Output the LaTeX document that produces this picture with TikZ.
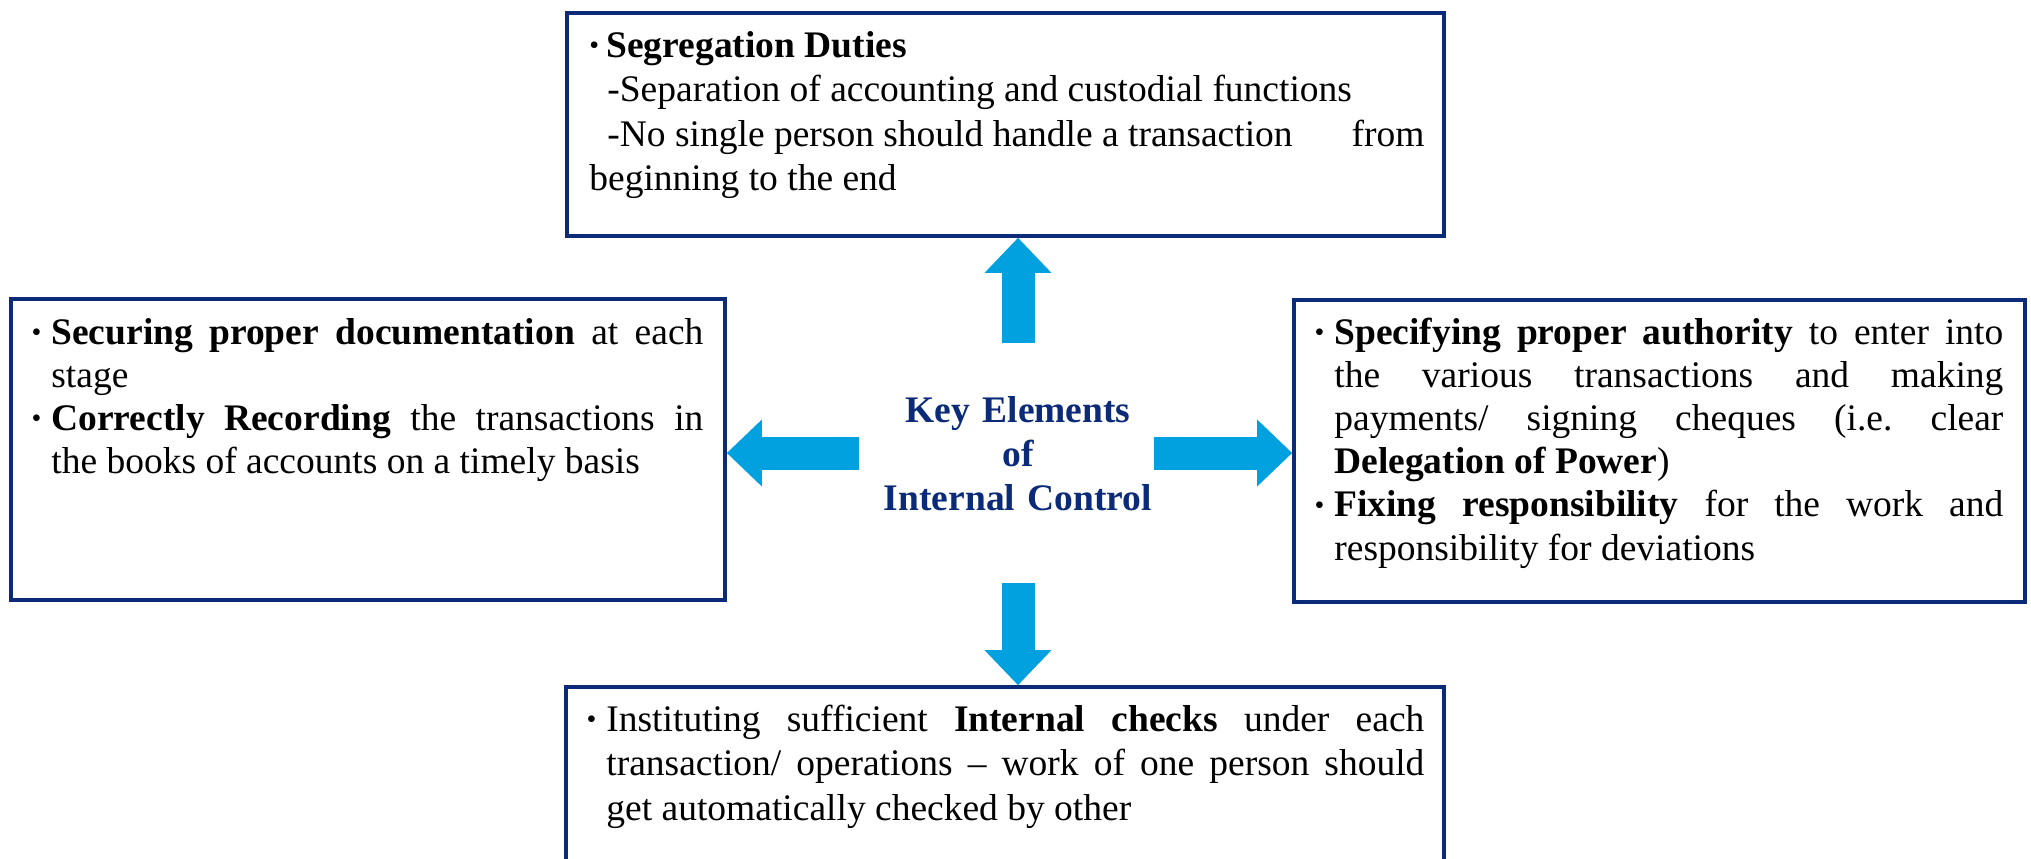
\documentclass[tikz,border=0pt]{standalone}
\usepackage{fontspec}
\setmainfont{Liberation Serif}
\usetikzlibrary{arrows.meta,fit}
\definecolor{navy}{HTML}{0B2A78}
\definecolor{cyanarr}{HTML}{00A1DE}
\newcommand{\bul}{{\fontsize{14pt}{14pt}\selectfont\raisebox{1.3pt}{\textbullet}}}
\newcommand{\bulitem}{\leavevmode\llap{\bul\hspace{5pt}}}
\frenchspacing
\tolerance=10000
\hbadness=10000
\begin{document}
\begin{tikzpicture}[x=0.5pt,y=-0.5pt,
  box/.style={draw=navy,line width=1.9pt,inner sep=0pt},
  txt/.style={anchor=base west,inner sep=0pt,align=justify,
    font=\fontsize{18.75pt}{22.25pt}\selectfont},
  sidetxt/.style={txt,font=\fontsize{18.75pt}{21.6pt}\selectfont},
  ctrtext/.style={anchor=base,inner sep=0pt,align=center,text width=170pt,
    text=navy,font=\fontsize{18.75pt}{22pt}\selectfont\bfseries},
  bigarrow/.style={draw=cyanarr,line width=16.5pt,
    -{Triangle[length=17.5pt,width=33.5pt,line width=0pt 0,fill=cyanarr]}}
]
\useasboundingbox (0,0) rectangle (2031,858);
\clip (0,0) rectangle (2031,858);
\fill[white] (0,0) rectangle (2031,858);

% boxes
\node[box,fit={(567,13) (1444,236)}] (top) {};
\node[box,fit={(11,299) (725,600)}] (lft) {};
\node[box,fit={(1294,300) (2025,602)}] (rgt) {};
\node[box,fit={(566,687) (1444,910)}] (bot) {};

% centre
\node[ctrtext] (ctr) at (1018,422) {Key Elements\\of\\Internal Control};

% arrows
\coordinate (ua) at (1018,343);
\coordinate (da) at (1018,583);
\coordinate (la) at (859,453);
\coordinate (ra) at (1154,453);
\draw[bigarrow] (ua) -- (ua |- top.south);
\draw[bigarrow] (da) -- (da |- bot.north);
\draw[bigarrow] (la) -- (la -| lft.east);
\draw[bigarrow] (ra) -- (ra -| rgt.west);

% texts
\node[txt,text width=417.5pt] (toptxt) at (589,57) {%
\makebox[8.5pt][l]{\bul}\textbf{Segregation Duties}\\
\hspace*{9pt}-Separation of accounting and custodial functions\\
\hspace*{9pt}-No single person should handle a transaction\hfill from\linebreak
beginning to the end};

\node[sidetxt,text width=326pt] (lfttxt) at (51,344) {%
\bulitem\textbf{Securing proper documentation} at each\linebreak stage\par
\bulitem\textbf{Correctly Recording} the transactions in\linebreak the books of accounts on a timely basis};

\node[sidetxt,text width=334.5pt] (rgttxt) at (1334,344) {%
\bulitem\textbf{Specifying proper authority} to enter into\linebreak the various transactions and making\linebreak payments/ signing cheques (i.e. clear\linebreak \textbf{Delegation of Power})\par
\bulitem\textbf{Fixing responsibility} for the work and\linebreak responsibility for deviations};

\node[txt,text width=409pt] (bottxt) at (606,731) {%
\bulitem Instituting sufficient \textbf{Internal checks} under each\linebreak transaction/ operations -- work of one person should\linebreak get automatically checked by other};
\end{tikzpicture}
\end{document}
